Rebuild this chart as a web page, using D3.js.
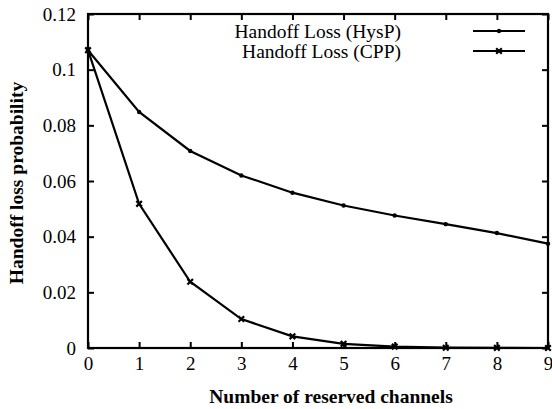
<!DOCTYPE html>
<html>
<head>
<meta charset="utf-8">
<script src="https://cdn.jsdelivr.net/npm/d3@7"></script>
<style>
  body { margin: 0; background: #fff; }
  svg text { font-family: "Liberation Serif", "Times New Roman", serif; fill: #000; }
</style>
</head>
<body>
<svg id="chart" width="552" height="409"></svg>
<script>
var channels = [0, 1, 2, 3, 4, 5, 6, 7, 8, 9];
var hyspLoss = [0.107, 0.0848, 0.0708, 0.0620, 0.0558, 0.0512, 0.0476, 0.0445, 0.0413, 0.0375];
var cppLoss = [0.107, 0.0518, 0.0238, 0.0104, 0.0042, 0.0015, 0.0005, 0.0001, 0.00005, 0.0];
var yTicks = [0, 0.02, 0.04, 0.06, 0.08, 0.1, 0.12];
var yTickLabels = ["0", "0.02", "0.04", "0.06", "0.08", "0.1", "0.12"];
var seriesNames = ["Handoff Loss (HysP)", "Handoff Loss (CPP)"];

// plot box (note: "top" is reserved on window, so use prefixed names)
var plotLeft = 88, plotRight = 548, plotTop = 14, plotBottom = 348;

var svg = d3.select("#chart");

var x = d3.scaleLinear().domain([0, 9]).range([plotLeft, plotRight]);
var y = d3.scaleLinear().domain([0, 0.12]).range([plotBottom, plotTop]);

// inward ticks on all four sides
svg.append("g").attr("transform", "translate(0," + plotBottom + ")")
  .call(d3.axisBottom(x).tickValues(channels).tickSize(-6).tickPadding(9).tickFormat(d3.format("d")))
  .call(function(g) { g.select(".domain").remove(); });
svg.append("g").attr("transform", "translate(0," + plotTop + ")")
  .call(d3.axisTop(x).tickValues(channels).tickSize(-6).tickFormat(""))
  .call(function(g) { g.select(".domain").remove(); });
svg.append("g").attr("transform", "translate(" + plotLeft + ",0)")
  .call(d3.axisLeft(y).tickValues(yTicks).tickSize(-6).tickPadding(12)
    .tickFormat(function(d, i) { return yTickLabels[i]; }))
  .call(function(g) { g.select(".domain").remove(); });
svg.append("g").attr("transform", "translate(" + plotRight + ",0)")
  .call(d3.axisRight(y).tickValues(yTicks).tickSize(-6).tickFormat(""))
  .call(function(g) { g.select(".domain").remove(); });

svg.selectAll(".tick line").attr("stroke", "#000").attr("stroke-width", 2);
svg.selectAll(".tick text").attr("font-size", 19).attr("font-family", "Liberation Serif");

svg.append("rect")
  .attr("x", plotLeft).attr("y", plotTop)
  .attr("width", plotRight - plotLeft).attr("height", plotBottom - plotTop)
  .attr("fill", "none").attr("stroke", "#000").attr("stroke-width", 2.2);

var line = d3.line()
  .x(function(d, i) { return x(channels[i]); })
  .y(function(d) { return y(d); });

svg.append("path").datum(hyspLoss)
  .attr("d", line).attr("fill", "none").attr("stroke", "#000").attr("stroke-width", 2.2);
svg.append("path").datum(cppLoss)
  .attr("d", line).attr("fill", "none").attr("stroke", "#000").attr("stroke-width", 2.2);

// markers
svg.selectAll(".mHysp").data(hyspLoss).enter().append("circle")
  .attr("cx", function(d, i) { return x(channels[i]); })
  .attr("cy", function(d) { return y(d); })
  .attr("r", 2.2).attr("fill", "#000");

var cross = d3.symbol().type(d3.symbolX).size(22);
svg.selectAll(".mCpp").data(cppLoss).enter().append("path")
  .attr("transform", function(d, i) { return "translate(" + x(channels[i]) + "," + y(d) + ")"; })
  .attr("d", cross).attr("stroke", "#000").attr("stroke-width", 2.2).attr("fill", "#000");

// legend
var legend = svg.append("g");
seriesNames.forEach(function(name, i) {
  var ly = 31 + i * 20;
  legend.append("text").attr("x", 401).attr("y", ly).attr("dy", "0.35em")
    .attr("text-anchor", "end").attr("font-size", 19.5).text(name);
  legend.append("line").attr("x1", 473).attr("x2", 525).attr("y1", ly).attr("y2", ly)
    .attr("stroke", "#000").attr("stroke-width", 2.2);
  if (i === 0) {
    legend.append("circle").attr("cx", 499).attr("cy", ly).attr("r", 2.2).attr("fill", "#000");
  } else {
    legend.append("path").attr("transform", "translate(499," + ly + ")")
      .attr("d", cross).attr("stroke", "#000").attr("stroke-width", 2.2);
  }
});

// axis titles
svg.append("text").attr("x", 331).attr("y", 403)
  .attr("text-anchor", "middle").attr("font-size", 19.5).attr("font-weight", "bold")
  .text("Number of reserved channels");
svg.append("text").attr("transform", "translate(23,183) rotate(-90)")
  .attr("text-anchor", "middle").attr("font-size", 19.5).attr("font-weight", "bold")
  .text("Handoff loss probability");
</script>
</body>
</html>
